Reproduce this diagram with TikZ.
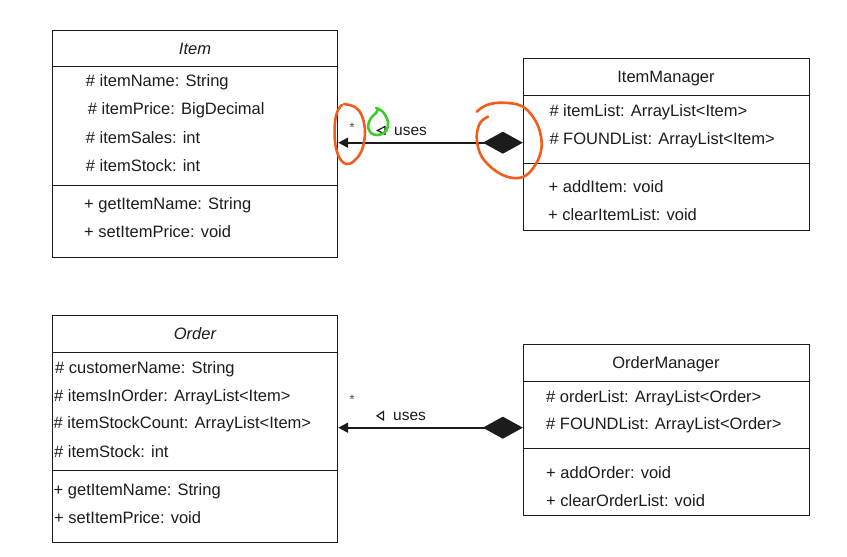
\documentclass[tikz,border=0pt]{standalone}
\usepackage{fontspec}
\setmainfont{Liberation Sans}
\usetikzlibrary{arrows.meta}
\definecolor{ink}{RGB}{28,28,28}
\definecolor{annor}{RGB}{242,92,28}
\definecolor{anngr}{RGB}{60,205,40}
\begin{document}
\begin{tikzpicture}[x=1pt,y=-1pt,
  classbox/.style={draw=ink, line width=1pt, inner sep=0pt},
  sep/.style={draw=ink, line width=1pt},
  txt/.style={anchor=base west, inner sep=0pt, text=ink, font=\fontsize{16.5}{18}\selectfont},
  ttl/.style={anchor=base, inner sep=0pt, text=ink, font=\fontsize{16.5}{18}\selectfont},
  ittl/.style={ttl, font=\fontsize{16.5}{18}\selectfont\itshape},
  mult/.style={anchor=center, inner sep=0pt, text=ink!75, font=\fontsize{14}{15}\selectfont},
  lbl/.style={anchor=base west, inner sep=0pt, text=ink, font=\fontsize{15.5}{17}\selectfont},
  conn/.style={draw=ink, line width=2pt, {Triangle[length=10pt,width=10pt]}-{Diamond[length=40pt,width=22pt]}},
  navtri/.style={draw=ink, line width=1.2pt, line join=miter},
  annot/.style={line width=2.6pt, line cap=round, line join=round}
]
\useasboundingbox (0,0) rectangle (847,557);

% ---------- Item ----------
\node[classbox, minimum width=285.4pt, minimum height=227.7pt] (item) at (195,143.9) {};
\draw[sep] (item.west |- 0,66.7) -- (item.east |- 0,66.7);
\draw[sep] (item.west |- 0,185) -- (item.east |- 0,185);
\node[ittl] (itemT) at (195,54.5) {Item};
\node[txt] (ia1) at (85.7,86.5) {\# itemName: String};
\node[txt] (ia2) at (87.7,114.5) {\# itemPrice: BigDecimal};
\node[txt] (ia3) at (85.7,143.5) {\# itemSales: int};
\node[txt] (ia4) at (85.7,171.5) {\# itemStock: int};
\node[txt] (im1) at (84,209.5) {+ getItemName: String};
\node[txt] (im2) at (84,237.5) {+ setItemPrice: void};

% ---------- ItemManager ----------
\node[classbox, minimum width=285.7pt, minimum height=171.7pt] (imgr) at (666.2,144.2) {};
\draw[sep] (imgr.west |- 0,95.7) -- (imgr.east |- 0,95.7);
\draw[sep] (imgr.west |- 0,163.3) -- (imgr.east |- 0,163.3);
\node[ttl] (imgrT) at (666,82.8) {ItemManager};
\node[txt] (ma1) at (549.3,116.5) {\# itemList: ArrayList<Item>};
\node[txt] (ma2) at (549.3,144.8) {\# FOUNDList: ArrayList<Item>};
\node[txt] (mm1) at (548.5,192.2) {+ addItem: void};
\node[txt] (mm2) at (548,220.5) {+ clearItemList: void};

% ---------- Order ----------
\node[classbox, minimum width=285.4pt, minimum height=227.7pt] (order) at (195,428.9) {};
\draw[sep] (order.west |- 0,352.3) -- (order.east |- 0,352.3);
\draw[sep] (order.west |- 0,470) -- (order.east |- 0,470);
\node[ittl] (orderT) at (195,339.8) {Order};
\node[txt] (oa1) at (55,373.2) {\# customerName: String};
\node[txt] (oa2) at (54,401.2) {\# itemsInOrder: ArrayList<Item>};
\node[txt] (oa3) at (53.5,428.8) {\# itemStockCount: ArrayList<Item>};
\node[txt] (oa4) at (54,457.2) {\# itemStock: int};
\node[txt] (om1) at (53.5,495.5) {+ getItemName: String};
\node[txt] (om2) at (54,523.8) {+ setItemPrice: void};

% ---------- OrderManager ----------
\node[classbox, minimum width=285.7pt, minimum height=171pt] (omgr) at (666.2,429.5) {};
\draw[sep] (omgr.west |- 0,381) -- (omgr.east |- 0,381);
\draw[sep] (omgr.west |- 0,448.3) -- (omgr.east |- 0,448.3);
\node[ttl] (omgrT) at (666,368.8) {OrderManager};
\node[txt] (na1) at (546,402.2) {\# orderList: ArrayList<Order>};
\node[txt] (na2) at (546,429.8) {\# FOUNDList: ArrayList<Order>};
\node[txt] (nm1) at (546,478.2) {+ addOrder: void};
\node[txt] (nm2) at (546,506.2) {+ clearOrderList: void};

% ---------- connectors ----------
\coordinate (c1a) at (item.east |- 0,142.7);
\coordinate (c1b) at (imgr.west |- 0,142.7);
\draw[conn] (c1a) -- (c1b);
\node[mult] (s1) at (352,128) {*};
\draw[navtri] (385,126.5) -- (385,134.3) -- (377.5,130.4) -- cycle;
\node[lbl] (u1) at (394,135) {uses};

\coordinate (c2a) at (order.east |- 0,427.7);
\coordinate (c2b) at (omgr.west |- 0,427.7);
\draw[conn] (c2a) -- (c2b);
\node[mult] (s2) at (352,400) {*};
\draw[navtri] (383.5,411.5) -- (383.5,420) -- (377,415.8) -- cycle;
\node[lbl] (u2) at (393,420.5) {uses};

% ---------- hand-drawn annotations ----------
\draw[annot, annor] plot[smooth, tension=0.6] coordinates {
  (344,104) (355,107) (362,116) (365,132) (362,150) (354,161) (346,164)
  (339,157) (335,142) (335,122) (338,110) (342,105)};
\draw[annot, anngr] plot[smooth, tension=0.6] coordinates {
  (376,108) (383,112) (388,122) (386,131) (378,135) (371,133) (368,126)
  (371,118) (376,113) (378,109)};
\draw[annot, annor] plot[smooth, tension=0.6] coordinates {
  (476.7,111.7) (486.7,105) (503,102.7) (523,106.7) (536.7,123) (541.7,143)
  (538,160) (526.7,175) (513,178) (496.7,171.7) (481.7,156.7) (476.7,138)
  (480,123) (488,116.7)};
\end{tikzpicture}
\end{document}
